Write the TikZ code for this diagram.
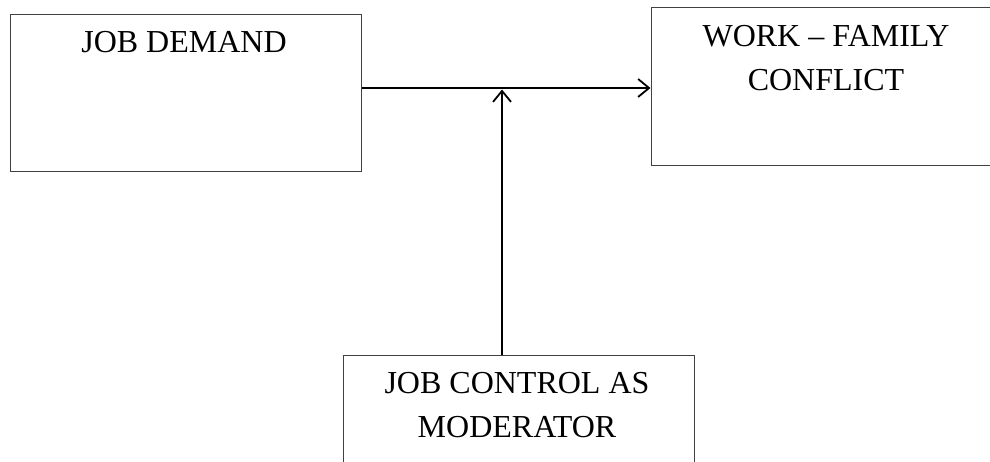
\documentclass[tikz,border=0pt]{standalone}
\usepackage{fontspec}
\setmainfont{Liberation Serif}
\usetikzlibrary{arrows.meta}
\begin{document}
\begin{tikzpicture}[x=1pt,y=-1pt,
  box/.style={draw=black!75, line width=1pt, rectangle, inner sep=0pt},
  lbl/.style={font=\fontsize{32}{44}\selectfont, inner sep=0pt, align=center, anchor=base},
  conn/.style={line width=2pt, -{Straight Barb[length=11pt,width=18pt,line width=1.8pt]}}]
\useasboundingbox (0,0) rectangle (990,462);
\clip (0,0) rectangle (990,462);
\node[box, minimum width=351pt, minimum height=157pt] (jd) at (185.5,93.5) {};
\node[box, minimum width=350pt, minimum height=158pt] (wfc) at (826,87) {};
\node[box, minimum width=351pt, minimum height=165pt] (jc) at (518.5,437.5) {};
\node[lbl] (jdt) at (184,53) {JOB DEMAND};
\node[lbl] (wfct) at (826,91) {WORK – FAMILY\\CONFLICT};
\node[lbl] (jct) at (517,437) {JOB CONTROL AS\\MODERATOR};
\coordinate (mid) at (502,88);
\draw[conn] (jd.east |- mid) -- (wfc.west |- mid);
\draw[conn] (jc.north -| mid) -- ([yshift=-1.5pt]mid);
\end{tikzpicture}
\end{document}
